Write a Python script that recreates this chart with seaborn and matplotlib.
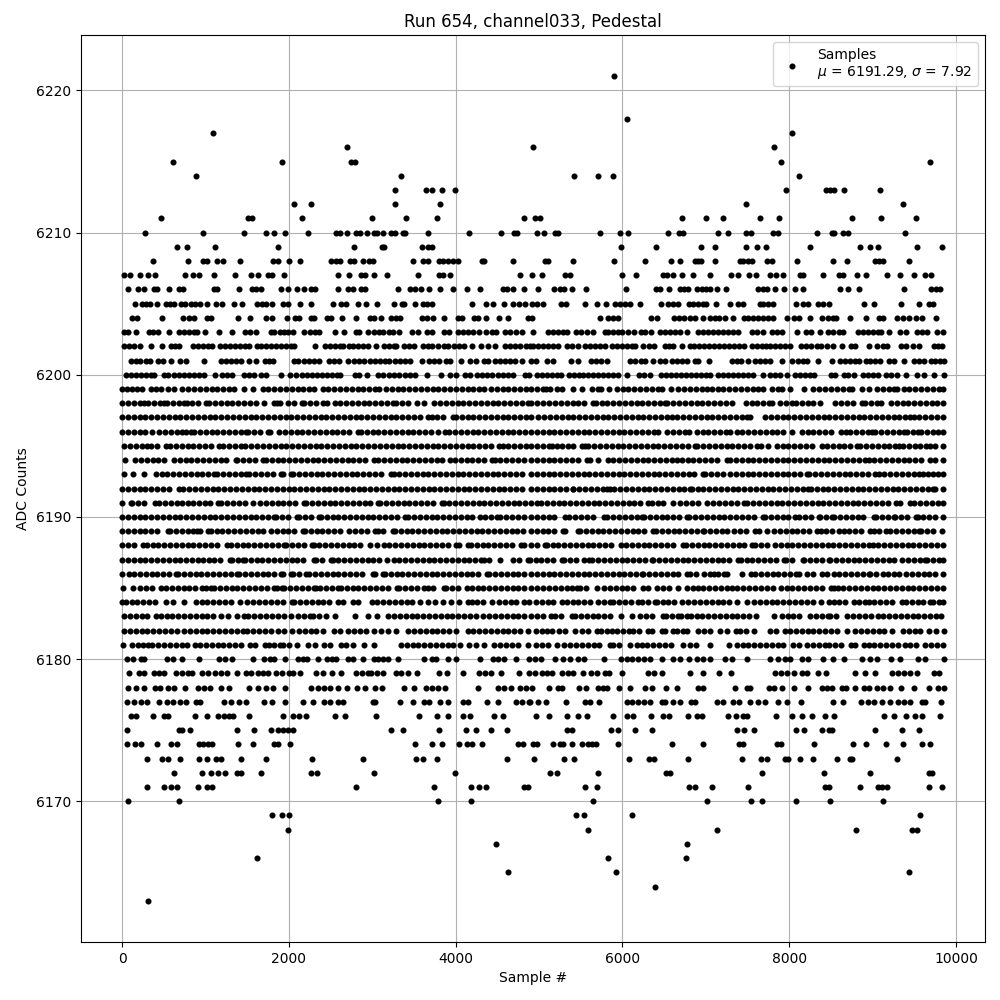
import pandas as pd
import matplotlib
matplotlib.use('Agg')
import matplotlib.pyplot as plt
import seaborn as sns

# ── Values: sample numbers at each ADC level ──────────────────────────
adc_6221 = [5904]
adc_6218 = [6060]
adc_6217 = [1092, 8040]
adc_6216 = [2700, 4932, 7824]
adc_6215 = [612, 1920, 2748, 2796, 7908, 9684]
adc_6214 = [888, 3348, 5424, 5712, 5892, 8124]
adc_6213 = [3276, 3648, 3720, 3840, 3996, 7968, 8444, 8492, 8540, 8652, 9084]
adc_6212 = [2064, 2268, 3276, 3816, 7488, 9360]
adc_6211 = [468, 1512, 1560, 2160, 3000, 3408, 3780, 4824, 4956, 5016, 6720, 7008, 7212, 7656, 7884, 8748, 9096, 9516]
adc_6210 = [276, 972, 1464, 1728, 1824, 1956, 2224, 2560, 2608, 2700, 2804, 2856, 2940, 3024, 3060, 3124, 3228, 3268,
            3364, 3392, 3672, 4164, 4548, 4704, 4736, 4980, 5064, 5196, 5228, 5736, 5976, 6072, 6552, 6684, 6732, 7152,
            7272, 7488, 7548, 7812, 7872, 8328, 8512, 8540, 8640, 8700, 9384]
adc_6209 = [660, 780, 1116, 1872, 2784, 3112, 3144, 3600, 3672, 3712, 5988, 6408, 6948, 7116, 7488, 7620, 7728, 8256,
            8844, 8964, 9060, 9528, 9828]
adc_6208 = [372, 792, 972, 1024, 1140, 1216, 1416, 1812, 1872, 1996, 2136, 2508, 2568, 2616, 2736, 2784, 2892, 2964,
            3012, 3492, 3612, 3672, 3804, 3844, 3912, 3972, 4024, 4312, 4344, 4692, 5076, 5112, 5412, 5904, 6276, 6588,
            6696, 6876, 6912, 6948, 7116, 7416, 7452, 7512, 7560, 7740, 7792, 8100, 8520, 8688, 9024, 9072, 9120, 9432]
adc_6207 = [24, 96, 216, 312, 396, 756, 852, 924, 1104, 1356, 1548, 1632, 1752, 1800, 1944, 2592, 2724, 2868, 2916, 3024,
            3180, 3552, 3804, 3852, 3936, 4776, 4912, 5040, 5316, 5376, 6000, 6168, 6492, 6540, 6612, 6720, 6852, 7056,
            7308, 7392, 7524, 7608, 7776, 7848, 7932, 8136, 8172, 8400, 8592, 8640, 8808, 8916, 9168, 9324, 9492, 9624, 9696]
adc_6206 = [72, 192, 264, 384, 420, 564, 684, 732, 1104, 1144, 1404, 1560, 1608, 1668, 1908, 1992, 2100, 2184, 2264, 2316,
            2592, 2704, 2764, 2864, 2916, 3312, 3456, 3516, 3588, 3684, 3816, 3972, 4140, 4296, 4564, 4612, 4692, 4824,
            4992, 5184, 5252, 5304, 5400, 5568, 6048, 6408, 6456, 6564, 6696, 6744, 6792, 6900, 6960, 7008, 7056, 7140,
            7248, 7632, 7692, 7740, 7836, 7944, 8076, 8172, 8604, 8700, 8832, 9372, 9696, 9756, 9804]
adc_6205 = [156, 240, 288, 336, 420, 528, 576, 624, 708, 756, 828, 876, 936, 1020, 1128, 1200, 1344, 1440, 1620, 1680,
            1728, 1800, 1932, 1992, 2132, 2268, 2532, 2628, 2688, 2832, 2928, 3060, 3264, 3360, 3384, 3516, 3612, 3660,
            3712, 4200, 4368, 4452, 4584, 4692, 4764, 4836, 4920, 4980, 5052, 5268, 5328, 5556, 5700, 5808, 5916, 5976,
            6036, 6096, 6216, 6468, 6552, 6612, 6672, 6804, 6852, 6912, 6972, 7008, 7128, 7296, 7392, 7452, 7652, 7692,
            7752, 7812, 8088, 8172, 8232, 8340, 8400, 8472, 8892, 9012, 9336, 9552, 9672, 9720]
adc_6204 = [116, 184, 480, 732, 804, 864, 1024, 1064, 1392, 1536, 1728, 1800, 1980, 2076, 2124, 2268, 2304, 2456, 2504,
            2640, 2808, 2976, 3024, 3108, 3224, 3284, 3336, 3592, 3652, 3724, 3864, 4032, 4076, 4224, 4264, 4368, 4520,
            4632, 4872, 4912, 5736, 5832, 5892, 5952, 6348, 6420, 6624, 6684, 6744, 6812, 6876, 6972, 7056, 7116, 7164,
            7236, 7332, 7464, 7512, 7572, 7632, 7692, 7752, 7812, 7980, 8064, 8124, 8256, 8388, 8460, 8520, 8564, 8724,
            8916, 9072, 9120, 9288, 9360, 9432, 9516, 9588, 9756]
adc_6203 = [24, 72, 168, 324, 372, 432, 564, 684, 744, 804, 864, 904, 996, 1164, 1320, 1476, 1536, 1608, 1788, 1824, 1896,
            1944, 1984, 2052, 2184, 2256, 2316, 2364, 2556, 2664, 2808, 2844, 2952, 3024, 3084, 3124, 3204, 3244, 3324,
            3480, 3544, 3652, 3712, 3864, 3924, 4024, 4084, 4144, 4204, 4284, 4368, 4432, 4484, 4592, 4656, 4728, 4792,
            4924, 5112, 5172, 5232, 5292, 5340, 5448, 5508, 5572, 5652, 5796, 5832, 5892, 5952, 6000, 6072, 6144, 6228,
            6276, 6348, 6456, 6516, 6576, 6636, 6696, 6780, 6912, 6972, 7032, 7092, 7152, 7212, 7272, 7332, 7392, 7560,
            7620, 7692, 7800, 7860, 7920, 8100, 8208, 8268, 8364, 8460, 8520, 8592, 8640, 8820, 8880, 8940, 9000, 9060,
            9100, 9192, 9324, 9396, 9528, 9588, 9648, 9768, 9850]
adc_6202 = [24, 84, 144, 216, 348, 480, 584, 636, 684, 852, 912, 972, 1032, 1080, 1176, 1236, 1296, 1356, 1416, 1476, 1524,
            1620, 1668, 1728, 1788, 1848, 1908, 1968, 2028, 2064, 2312, 2436, 2496, 2556, 2616, 2652, 2724, 2772, 2832,
            2892, 2952, 3048, 3144, 3204, 3264, 3284, 3384, 3444, 3504, 3612, 3672, 3720, 3792, 3864, 3912, 3984, 4044,
            4104, 4200, 4300, 4384, 4476, 4596, 4656, 4716, 4776, 4848, 4896, 4932, 4992, 5052, 5112, 5172, 5232, 5340,
            5400, 5472, 5556, 5616, 5676, 5736, 5796, 5880, 5940, 6000, 6060, 6120, 6156, 6252, 6324, 6384, 6516, 6564,
            6612, 6720, 6816, 6864, 6924, 6984, 7044, 7104, 7164, 7224, 7284, 7344, 7404, 7464, 7560, 7620, 7680, 7728,
            7776, 7836, 7896, 7956, 8016, 8148, 8208, 8268, 8328, 8376, 8448, 8520, 8628, 8736, 8784, 8952, 9048, 9120,
            9168, 9336, 9396, 9480, 9552, 9732, 9780, 9828]
adc_6201 = [104, 164, 216, 288, 336, 432, 492, 592, 696, 768, 984, 1188, 1248, 1308, 1368, 1428, 1524, 1608, 1716, 1764,
            1812, 2064, 2112, 2184, 2244, 2304, 2364, 2484, 2544, 2604, 2712, 2784, 2844, 2904, 2976, 3036, 3096, 3156,
            3204, 3276, 3336, 3396, 3456, 3600, 3684, 3744, 3804, 3888, 3936, 4068, 4176, 4248, 4344, 4392, 4476, 4536,
            4596, 4656, 4716, 4800, 4904, 4964, 5100, 5172, 5388, 5472, 5628, 5688, 5748, 5820, 6096, 6156, 6228, 6276,
            6372, 6456, 6516, 6600, 6660, 6720, 6780, 6876, 6912, 7044, 7320, 7380, 7428, 7512, 7596, 7656, 7716, 7776,
            7916, 8040, 8112, 8172, 8220, 8340, 8508, 8604, 8664, 8724, 8784, 8832, 8916, 8964, 9024, 9084, 9192, 9252,
            9372, 9492, 9552, 9612, 9696, 9744, 9804, 9852]
adc_6200 = [48, 108, 168, 228, 288, 348, 384, 504, 552, 624, 684, 744, 804, 864, 924, 984, 1116, 1200, 1260, 1320, 1464,
            1524, 1584, 1668, 1728, 1908, 2016, 2088, 2160, 2220, 2280, 2340, 2400, 2460, 2520, 2580, 2616, 2796, 2844,
            2940, 3072, 3132, 3204, 3264, 3324, 3396, 3456, 3516, 3660, 3828, 3936, 4008, 4116, 4176, 4260, 4320, 4380,
            4440, 4512, 4572, 4632, 4692, 4836, 4884, 4980, 5040, 5100, 5160, 5220, 5268, 5364, 5424, 5484, 5532, 5592,
            5652, 5712, 5772, 5832, 5892, 5952, 6060, 6204, 6264, 6336, 6468, 6528, 6588, 6648, 6708, 6768, 6828, 6888,
            6948, 7008, 7056, 7152, 7212, 7272, 7332, 7392, 7452, 7512, 7572, 7692, 7776, 7836, 7896, 7972, 8076, 8136,
            8196, 8256, 8304, 8496, 8544, 8652, 8700, 8772, 8880, 8940, 9000, 9060, 9156, 9216, 9288, 9396, 9528, 9612,
            9732, 9852]
adc_6199 = [0, 60, 120, 180, 240, 344, 404, 464, 552, 624, 724, 794, 864, 934, 1004, 1074, 1144, 1214, 1284, 1344, 1464,
            1564, 1684, 1754, 1824, 1894, 1964, 2034, 2104, 2174, 2244, 2304, 2404, 2474, 2544, 2614, 2684, 2754, 2824,
            2894, 2964, 3034, 3084, 3164, 3234, 3304, 3374, 3444, 3514, 3584, 3654, 3724, 3794, 3864, 3934, 4004, 4074,
            4144, 4214, 4284, 4344, 4424, 4494, 4564, 4634, 4704, 4774, 4844, 4904, 4974, 5044, 5080, 5132, 5212, 5272,
            5412, 5520, 5632, 5702, 5740, 5840, 5932, 6002, 6072, 6142, 6212, 6282, 6352, 6422, 6472, 6584, 6672, 6742,
            6812, 6882, 6952, 7012, 7072, 7142, 7212, 7282, 7352, 7422, 7492, 7562, 7632, 7692, 7792, 7862, 7912, 8012,
            8180, 8292, 8362, 8432, 8502, 8572, 8642, 8712, 8752, 8872, 8952, 9052, 9122, 9192, 9262, 9292, 9372, 9442,
            9512, 9582, 9652, 9722, 9792, 9850]
adc_6198 = [0, 70, 140, 210, 264, 316, 384, 450, 504, 544, 614, 684, 740, 784, 844, 914, 1004, 1044, 1114, 1184, 1254,
            1324, 1394, 1464, 1534, 1604, 1696, 1816, 1852, 1888, 1992, 2062, 2152, 2184, 2254, 2324, 2404, 2456, 2556,
            2616, 2686, 2756, 2826, 2896, 2966, 3036, 3106, 3176, 3244, 3284, 3354, 3424, 3536, 3624, 3744, 3814, 3884,
            3954, 4024, 4094, 4164, 4234, 4304, 4374, 4444, 4514, 4584, 4654, 4724, 4794, 4864, 4904, 4972, 5052, 5122,
            5192, 5262, 5332, 5402, 5472, 5542, 5644, 5680, 5750, 5820, 5890, 5960, 6030, 6100, 6170, 6240, 6310, 6380,
            6450, 6512, 6540, 6610, 6680, 6750, 6820, 6890, 6960, 7030, 7100, 7170, 7240, 7312, 7480, 7550, 7620, 7690,
            7760, 7800, 7892, 7962, 8032, 8084, 8152, 8222, 8292, 8372, 8552, 8622, 8692, 8762, 8872, 8912, 8982, 9052,
            9100, 9220, 9290, 9360, 9430, 9500, 9570, 9640, 9712, 9772, 9850]
adc_6197 = [0, 70, 140, 210, 280, 350, 420, 490, 560, 630, 700, 770, 840, 910, 980, 1050, 1120, 1190, 1260, 1330, 1400,
            1470, 1540, 1610, 1680, 1750, 1820, 1890, 1960, 2030, 2100, 2170, 2240, 2310, 2380, 2450, 2520, 2590, 2660,
            2730, 2800, 2870, 2940, 3010, 3080, 3150, 3220, 3290, 3360, 3430, 3500, 3570, 3664, 3712, 3782, 3852, 3964,
            4004, 4074, 4144, 4214, 4284, 4354, 4424, 4494, 4564, 4634, 4704, 4774, 4844, 4904, 4992, 5062, 5132, 5202,
            5272, 5342, 5412, 5482, 5552, 5622, 5692, 5762, 5832, 5902, 5972, 6042, 6112, 6182, 6252, 6322, 6392, 6462,
            6532, 6592, 6660, 6730, 6800, 6870, 6940, 7010, 7080, 7150, 7220, 7290, 7360, 7430, 7492, 7532, 7712, 7782,
            7852, 7922, 7992, 8062, 8132, 8202, 8272, 8342, 8412, 8482, 8552, 8622, 8692, 8762, 8832, 8902, 8972, 9042,
            9112, 9182, 9252, 9322, 9392, 9452, 9492, 9562, 9632, 9702, 9772, 9850]
adc_6196 = [0, 70, 140, 210, 280, 364, 444, 514, 584, 654, 724, 764, 824, 864, 934, 1004, 1074, 1144, 1214, 1284, 1354,
            1424, 1484, 1516, 1586, 1656, 1744, 1776, 1884, 1952, 2022, 2092, 2162, 2232, 2302, 2372, 2442, 2512, 2582,
            2652, 2722, 2824, 2864, 2934, 3004, 3074, 3144, 3214, 3284, 3354, 3424, 3494, 3564, 3634, 3704, 3784, 3872,
            3924, 3994, 4064, 4134, 4204, 4274, 4344, 4414, 4484, 4554, 4624, 4694, 4764, 4834, 4904, 4974, 5044, 5114,
            5184, 5254, 5324, 5394, 5464, 5534, 5604, 5674, 5744, 5814, 5884, 5954, 6024, 6094, 6164, 6234, 6304, 6374,
            6432, 6540, 6610, 6680, 6750, 6804, 6892, 6962, 7032, 7102, 7172, 7242, 7292, 7380, 7440, 7510, 7580, 7650,
            7720, 7790, 7860, 7930, 8040, 8152, 8222, 8292, 8362, 8432, 8502, 8620, 8680, 8732, 8802, 8872, 8942, 8992,
            9032, 9102, 9172, 9242, 9312, 9372, 9412, 9482, 9540, 9580, 9650, 9720, 9790, 9850]
adc_6195 = [24, 94, 164, 234, 304, 352, 424, 524, 576, 646, 716, 786, 856, 926, 996, 1072, 1164, 1216, 1286, 1356, 1424,
            1480, 1550, 1620, 1690, 1760, 1830, 1900, 1970, 2040, 2110, 2180, 2250, 2320, 2390, 2460, 2530, 2600, 2670,
            2740, 2810, 2880, 2950, 3020, 3090, 3160, 3232, 3304, 3374, 3444, 3514, 3584, 3654, 3724, 3794, 3864, 3934,
            4004, 4074, 4144, 4214, 4284, 4354, 4424, 4524, 4564, 4634, 4704, 4774, 4844, 4904, 4974, 5044, 5114, 5152,
            5212, 5272, 5342, 5412, 5512, 5552, 5592, 5662, 5732, 5802, 5872, 5942, 6012, 6082, 6152, 6222, 6292, 6362,
            6432, 6502, 6572, 6642, 6712, 6782, 6872, 6900, 6970, 7040, 7110, 7180, 7250, 7320, 7390, 7460, 7530, 7612,
            7664, 7744, 7852, 7922, 7992, 8062, 8132, 8202, 8272, 8392, 8452, 8522, 8592, 8662, 8732, 8812, 8852, 8922,
            8992, 9062, 9132, 9202, 9272, 9312, 9364, 9434, 9504, 9572, 9640, 9684, 9754, 9850]
adc_6194 = [40, 156, 226, 296, 366, 436, 506, 624, 692, 762, 832, 902, 972, 1042, 1112, 1182, 1252, 1364, 1384, 1454,
            1524, 1594, 1684, 1724, 1794, 1864, 1934, 2004, 2074, 2144, 2214, 2284, 2354, 2424, 2494, 2564, 2634, 2704,
            2774, 2844, 2914, 3016, 3072, 3142, 3212, 3282, 3352, 3422, 3492, 3562, 3632, 3702, 3772, 3842, 3936, 3992,
            4062, 4132, 4202, 4272, 4342, 4432, 4476, 4536, 4606, 4676, 4746, 4816, 4904, 4974, 5044, 5114, 5184, 5254,
            5324, 5394, 5464, 5572, 5616, 5704, 5824, 5892, 5962, 6032, 6102, 6172, 6242, 6312, 6382, 6452, 6522, 6592,
            6652, 6712, 6782, 6852, 6922, 6992, 7062, 7132, 7252, 7292, 7362, 7432, 7502, 7572, 7642, 7712, 7782, 7852,
            7922, 7992, 8062, 8132, 8202, 8272, 8342, 8412, 8482, 8552, 8622, 8692, 8762, 8832, 8912, 8952, 9022, 9092,
            9162, 9232, 9302, 9372, 9442, 9512, 9582, 9684, 9744, 9850]
adc_6193 = [24, 136, 264, 404, 474, 544, 614, 684, 754, 824, 894, 964, 1034, 1104, 1144, 1214, 1284, 1354, 1424, 1492,
            1524, 1594, 1664, 1734, 1804, 1904, 1924, 2024, 2052, 2122, 2192, 2262, 2332, 2402, 2472, 2542, 2612, 2682,
            2752, 2822, 2892, 2962, 3032, 3102, 3224, 3264, 3324, 3394, 3464, 3534, 3604, 3674, 3744, 3814, 3884, 3954,
            4024, 4094, 4164, 4234, 4304, 4374, 4444, 4514, 4584, 4654, 4724, 4794, 4904, 4974, 5044, 5114, 5184, 5254,
            5324, 5394, 5464, 5534, 5604, 5674, 5744, 5814, 5884, 5954, 6024, 6094, 6164, 6234, 6304, 6374, 6444, 6514,
            6584, 6654, 6724, 6794, 6864, 6964, 6992, 7062, 7132, 7212, 7292, 7362, 7432, 7502, 7572, 7642, 7712, 7782,
            7852, 7922, 7992, 8062, 8132, 8212, 8244, 8314, 8384, 8454, 8524, 8594, 8664, 8734, 8804, 8874, 8944, 9032,
            9072, 9142, 9212, 9282, 9352, 9422, 9492, 9552, 9600, 9670, 9724, 9780, 9850]
adc_6192 = [0, 70, 140, 210, 280, 350, 420, 490, 560, 688, 736, 806, 876, 946, 1016, 1086, 1156, 1226, 1296, 1366, 1436,
            1506, 1576, 1646, 1716, 1786, 1856, 1926, 1996, 2066, 2136, 2206, 2276, 2346, 2416, 2486, 2556, 2626, 2696,
            2766, 2836, 2906, 2976, 3046, 3116, 3186, 3256, 3326, 3396, 3466, 3536, 3606, 3676, 3746, 3816, 3886, 3956,
            4026, 4096, 4166, 4236, 4306, 4376, 4446, 4516, 4586, 4656, 4726, 4796, 4904, 4974, 5044, 5114, 5184, 5254,
            5324, 5404, 5412, 5482, 5552, 5622, 5692, 5762, 5820, 5856, 5904, 5974, 6044, 6114, 6184, 6254, 6324, 6394,
            6464, 6534, 6604, 6674, 6744, 6812, 6832, 6902, 6972, 7042, 7112, 7182, 7252, 7322, 7392, 7462, 7532, 7602,
            7672, 7742, 7812, 7882, 7952, 8022, 8092, 8162, 8232, 8260, 8330, 8400, 8470, 8540, 8610, 8680, 8750, 8820,
            8890, 8960, 9030, 9100, 9170, 9240, 9310, 9380, 9450, 9520, 9590, 9660, 9724, 9752, 9850]
adc_6191 = [0, 104, 124, 194, 264, 392, 444, 514, 584, 654, 724, 794, 856, 920, 990, 1060, 1152, 1192, 1262, 1332, 1402,
            1472, 1572, 1656, 1724, 1794, 1864, 1934, 2004, 2074, 2176, 2208, 2278, 2348, 2418, 2488, 2558, 2628, 2698,
            2768, 2838, 2908, 2978, 3064, 3096, 3166, 3236, 3306, 3376, 3446, 3516, 3586, 3656, 3726, 3832, 3856, 3926,
            3996, 4066, 4136, 4206, 4276, 4346, 4416, 4486, 4556, 4626, 4696, 4766, 4836, 4904, 4980, 5024, 5094, 5164,
            5234, 5304, 5374, 5444, 5514, 5584, 5654, 5724, 5794, 5864, 5934, 6004, 6074, 6144, 6214, 6312, 6352, 6422,
            6492, 6604, 6692, 6762, 6832, 6902, 7012, 7092, 7162, 7232, 7302, 7372, 7460, 7500, 7570, 7640, 7710, 7780,
            7850, 7920, 7990, 8060, 8130, 8200, 8270, 8340, 8410, 8480, 8550, 8620, 8690, 8760, 8830, 8900, 8970, 9040,
            9110, 9180, 9284, 9324, 9444, 9500, 9570, 9640, 9710, 9780, 9850]
adc_6190 = [0, 70, 140, 210, 280, 350, 420, 490, 560, 630, 700, 770, 840, 910, 980, 1050, 1120, 1190, 1260, 1330, 1400,
            1470, 1540, 1610, 1680, 1750, 1824, 1848, 1918, 1988, 2096, 2124, 2194, 2264, 2364, 2384, 2454, 2524, 2594,
            2664, 2734, 2804, 2874, 2944, 3014, 3084, 3154, 3224, 3294, 3392, 3432, 3502, 3572, 3642, 3712, 3782, 3852,
            3922, 3992, 4062, 4132, 4202, 4296, 4352, 4422, 4496, 4536, 4606, 4676, 4746, 4816, 4904, 4974, 5044, 5114,
            5184, 5312, 5364, 5434, 5504, 5574, 5644, 5780, 5820, 5890, 5960, 6030, 6100, 6170, 6232, 6260, 6330, 6400,
            6470, 6540, 6610, 6680, 6780, 6804, 6874, 6944, 7014, 7084, 7154, 7224, 7294, 7364, 7434, 7504, 7574, 7684,
            7712, 7782, 7852, 7922, 7992, 8072, 8124, 8194, 8264, 8352, 8372, 8442, 8512, 8540, 8610, 8680, 8750, 8820,
            8890, 9012, 9044, 9114, 9184, 9252, 9272, 9342, 9412, 9524, 9540, 9610, 9680, 9750, 9850]
adc_6189 = [0, 70, 140, 210, 280, 350, 420, 552, 576, 646, 716, 786, 856, 904, 936, 1032, 1064, 1134, 1204, 1274, 1344,
            1414, 1484, 1554, 1624, 1692, 1784, 1854, 1924, 1994, 2064, 2168, 2192, 2262, 2332, 2402, 2472, 2542, 2616,
            2724, 2794, 2864, 2934, 3032, 3064, 3134, 3244, 3272, 3342, 3412, 3482, 3552, 3622, 3692, 3762, 3832, 3902,
            3972, 4042, 4112, 4182, 4252, 4322, 4392, 4462, 4532, 4602, 4672, 4742, 4812, 4904, 4972, 5042, 5112, 5182,
            5292, 5312, 5472, 5492, 5562, 5632, 5702, 5772, 5842, 5912, 5982, 6052, 6122, 6192, 6262, 6364, 6404, 6474,
            6544, 6614, 6684, 6754, 6824, 6894, 6972, 6980, 7050, 7120, 7190, 7260, 7340, 7410, 7480, 7592, 7644, 7740,
            7820, 7890, 7960, 8030, 8100, 8170, 8240, 8328, 8376, 8446, 8516, 8592, 8652, 8722, 8792, 8862, 8964, 9012,
            9082, 9164, 9212, 9282, 9352, 9422, 9492, 9552, 9580, 9650, 9720, 9832]
adc_6188 = [0, 70, 140, 256, 296, 366, 436, 506, 576, 646, 716, 786, 856, 926, 996, 1066, 1136, 1264, 1304, 1376, 1446,
            1516, 1586, 1656, 1726, 1796, 1866, 1944, 1968, 2038, 2108, 2178, 2272, 2296, 2366, 2436, 2506, 2576, 2646,
            2716, 2786, 2856, 2976, 3056, 3136, 3206, 3276, 3346, 3416, 3486, 3556, 3626, 3696, 3766, 3836, 3906, 4004,
            4044, 4144, 4184, 4254, 4324, 4394, 4464, 4534, 4604, 4674, 4784, 4824, 4904, 4974, 5076, 5092, 5162, 5232,
            5302, 5372, 5442, 5512, 5582, 5652, 5722, 5792, 5862, 5980, 6044, 6114, 6184, 6254, 6324, 6394, 6464, 6534,
            6604, 6732, 6764, 6834, 6904, 6974, 7044, 7114, 7184, 7254, 7324, 7394, 7464, 7552, 7596, 7666, 7736, 7832,
            7900, 7970, 8040, 8110, 8180, 8250, 8320, 8390, 8460, 8530, 8600, 8670, 8740, 8810, 8880, 8952, 9000, 9070,
            9140, 9210, 9280, 9350, 9420, 9490, 9560, 9630, 9700, 9770, 9850]
adc_6187 = [0, 70, 140, 210, 280, 350, 420, 490, 560, 630, 700, 770, 840, 916, 968, 1038, 1108, 1178, 1296, 1316, 1386,
            1452, 1472, 1542, 1612, 1682, 1752, 1822, 1892, 1962, 2032, 2102, 2172, 2296, 2324, 2394, 2504, 2524, 2594,
            2664, 2734, 2804, 2874, 2944, 3014, 3084, 3176, 3256, 3326, 3396, 3466, 3536, 3606, 3676, 3746, 3816, 3886,
            3956, 4026, 4096, 4166, 4236, 4304, 4336, 4406, 4536, 4692, 4762, 4872, 4892, 4964, 5024, 5094, 5164, 5280,
            5300, 5370, 5440, 5540, 5596, 5640, 5710, 5780, 5850, 5920, 5990, 6060, 6130, 6200, 6270, 6352, 6372, 6442,
            6512, 6582, 6652, 6722, 6792, 6862, 6932, 7002, 7072, 7142, 7212, 7282, 7392, 7420, 7490, 7560, 7630, 7700,
            7770, 7840, 7940, 7964, 8034, 8164, 8180, 8250, 8320, 8390, 8480, 8492, 8562, 8632, 8702, 8772, 8842, 8912,
            8982, 9052, 9122, 9192, 9262, 9352, 9420, 9500, 9570, 9632, 9652, 9722, 9792, 9850]
adc_6186 = [0, 84, 144, 214, 284, 354, 424, 494, 564, 644, 672, 742, 812, 882, 952, 1022, 1092, 1162, 1232, 1302, 1384,
            1404, 1474, 1544, 1614, 1684, 1754, 1824, 1904, 1924, 2024, 2052, 2122, 2204, 2244, 2314, 2384, 2454, 2524,
            2594, 2664, 2734, 2804, 2874, 3004, 3032, 3124, 3152, 3222, 3292, 3362, 3432, 3502, 3572, 3642, 3712, 3782,
            3852, 3922, 3992, 4062, 4132, 4202, 4272, 4376, 4404, 4474, 4544, 4614, 4684, 4754, 4824, 4904, 4974, 5044,
            5114, 5184, 5254, 5324, 5394, 5464, 5534, 5604, 5674, 5744, 5814, 5884, 5954, 6024, 6094, 6164, 6232, 6252,
            6322, 6392, 6462, 6532, 6602, 6672, 6772, 6812, 6884, 6980, 7050, 7100, 7152, 7222, 7260, 7440, 7540, 7592,
            7662, 7732, 7802, 7872, 7942, 8012, 8084, 8124, 8220, 8290, 8392, 8452, 8532, 8602, 8672, 8742, 8812, 8882,
            8952, 8972, 9042, 9124, 9180, 9252, 9322, 9404, 9472, 9542, 9612, 9682, 9752, 9850]
adc_6185 = [12, 136, 216, 286, 356, 472, 528, 598, 668, 738, 808, 878, 964, 1004, 1072, 1104, 1174, 1244, 1314, 1384,
            1454, 1524, 1594, 1664, 1734, 1816, 1856, 1916, 1944, 2014, 2084, 2154, 2224, 2304, 2328, 2376, 2446, 2516,
            2592, 2624, 2694, 2764, 2834, 2904, 2974, 3044, 3114, 3184, 3292, 3324, 3394, 3464, 3534, 3624, 3664, 3734,
            3856, 3884, 3954, 4024, 4136, 4192, 4264, 4334, 4404, 4474, 4544, 4614, 4684, 4754, 4824, 4904, 4980, 5050,
            5120, 5190, 5260, 5330, 5400, 5452, 5492, 5562, 5692, 5780, 5850, 5920, 5990, 6060, 6130, 6244, 6312, 6420,
            6490, 6560, 6672, 6772, 6842, 6912, 6972, 7042, 7112, 7182, 7252, 7312, 7380, 7450, 7520, 7590, 7660, 7730,
            7812, 7900, 7970, 8040, 8110, 8180, 8250, 8320, 8390, 8504, 8532, 8580, 8650, 8720, 8790, 8860, 8930, 9000,
            9070, 9140, 9210, 9280, 9350, 9420, 9490, 9560, 9630, 9700, 9770, 9850]
adc_6184 = [0, 44, 114, 184, 254, 324, 394, 524, 612, 744, 884, 954, 1024, 1094, 1164, 1234, 1304, 1416, 1504, 1574, 1644,
            1714, 1784, 1854, 1924, 2032, 2064, 2134, 2204, 2274, 2344, 2414, 2484, 2584, 2644, 2764, 2832, 2992, 3062,
            3132, 3202, 3272, 3342, 3412, 3482, 3576, 3664, 3752, 3844, 3944, 4044, 4144, 4192, 4262, 4332, 4432, 4524,
            4594, 4664, 4724, 4824, 4884, 4962, 5032, 5112, 5172, 5272, 5332, 5402, 5472, 5542, 5612, 5712, 5780, 5852,
            5892, 5962, 6032, 6102, 6192, 6232, 6302, 6392, 6412, 6482, 6552, 6622, 6712, 6792, 6862, 6932, 7002, 7072,
            7142, 7204, 7284, 7372, 7492, 7580, 7650, 7720, 7790, 7860, 7930, 8000, 8070, 8140, 8210, 8292, 8380, 8472,
            8532, 8592, 8672, 8772, 8842, 8912, 8952, 9022, 9092, 9162, 9232, 9352, 9400, 9470, 9540, 9610, 9684, 9724,
            9794, 9850]
adc_6183 = [24, 94, 164, 234, 304, 404, 464, 534, 604, 674, 744, 814, 884, 954, 1024, 1094, 1184, 1276, 1384, 1464, 1516,
            1586, 1656, 1726, 1796, 1866, 1936, 2024, 2112, 2182, 2256, 2292, 2364, 2444, 2552, 2796, 2944, 3056, 3192,
            3262, 3332, 3402, 3472, 3542, 3612, 3682, 3752, 3822, 3892, 3962, 4032, 4102, 4172, 4242, 4324, 4404, 4474,
            4544, 4614, 4684, 4754, 4824, 4904, 4974, 5044, 5140, 5192, 5262, 5392, 5432, 5502, 5572, 5642, 5712, 5782,
            5852, 5980, 6112, 6212, 6282, 6352, 6492, 6524, 6594, 6672, 6700, 6780, 6820, 6890, 6960, 7030, 7100, 7170,
            7240, 7310, 7380, 7450, 7520, 7604, 7824, 7912, 7982, 8052, 8124, 8252, 8322, 8392, 8464, 8492, 8562, 8692,
            8764, 8834, 8904, 8980, 9060, 9130, 9200, 9270, 9340, 9410, 9480, 9550, 9620, 9690, 9760, 9820]
adc_6182 = [24, 94, 164, 234, 304, 374, 444, 514, 584, 656, 744, 814, 884, 954, 1024, 1094, 1164, 1234, 1304, 1374, 1456,
            1504, 1574, 1644, 1714, 1784, 1864, 1936, 2032, 2124, 2194, 2264, 2328, 2412, 2544, 2616, 2712, 2782, 2852,
            2922, 3024, 3104, 3192, 3288, 3432, 3502, 3572, 3642, 3712, 3782, 3852, 3924, 4004, 4144, 4214, 4284, 4354,
            4424, 4494, 4564, 4634, 4704, 4774, 4864, 4962, 5032, 5092, 5152, 5244, 5314, 5432, 5512, 5582, 5692, 5740,
            5810, 5880, 5940, 6004, 6084, 6124, 6194, 6312, 6352, 6472, 6512, 6604, 6652, 6722, 6780, 6912, 6982, 7052,
            7172, 7252, 7364, 7412, 7482, 7580, 7772, 7842, 7952, 8012, 8082, 8152, 8222, 8292, 8362, 8432, 8502, 8572,
            8692, 8792, 8862, 8932, 9002, 9072, 9142, 9232, 9364, 9434, 9504, 9574, 9672, 9764, 9852]
adc_6181 = [12, 124, 194, 256, 316, 364, 434, 504, 574, 644, 714, 784, 872, 936, 1006, 1076, 1146, 1216, 1286, 1356, 1426,
            1532, 1592, 1716, 1764, 1824, 1896, 1932, 2002, 2096, 2224, 2316, 2424, 2494, 2624, 2688, 2764, 2904, 3016,
            3344, 3414, 3484, 3554, 3624, 3694, 3764, 3834, 3904, 3974, 4056, 4164, 4248, 4344, 4464, 4534, 4604, 4674,
            4744, 4864, 4962, 5032, 5112, 5212, 5304, 5374, 5444, 5514, 5584, 5654, 5724, 5852, 5892, 5962, 6092, 6172,
            6232, 6300, 6370, 6440, 6510, 6580, 6732, 6812, 6882, 7052, 7276, 7372, 7442, 7512, 7582, 7652, 7722, 7792,
            7862, 7932, 8052, 8124, 8220, 8284, 8354, 8432, 8480, 8550, 8620, 8740, 8792, 8892, 8952, 9022, 9092, 9162,
            9232, 9302, 9392, 9452, 9522, 9632, 9700, 9770, 9850]
adc_6180 = [64, 134, 224, 264, 536, 606, 724, 924, 1164, 1232, 1324, 1572, 1704, 1776, 1824, 1956, 2104, 2164, 2216, 2344,
            2452, 2512, 2568, 2704, 2774, 2884, 3016, 3064, 3124, 3192, 3304, 3624, 3712, 3768, 3904, 4000, 4296, 4448,
            4504, 4584, 4728, 4884, 4954, 5024, 5188, 5292, 5372, 5472, 5544, 5784, 5980, 6050, 6120, 6190, 6260, 6330,
            6472, 6612, 6692, 6804, 6892, 6972, 7056, 7232, 7312, 7496, 7772, 7872, 7952, 8016, 8152, 8232, 8400, 8520,
            8652, 8872, 8972, 9052, 9216, 9324, 9540, 9624, 9852]
adc_6179 = [84, 204, 264, 384, 444, 504, 652, 722, 792, 844, 964, 1032, 1116, 1186, 1264, 1384, 1484, 1544, 1624, 1684,
            1744, 1844, 1914, 2004, 2052, 2136, 2328, 2408, 2512, 2620, 2804, 2872, 2944, 2984, 3052, 3124, 3284, 3344,
            3424, 3536, 3804, 3896, 4084, 4284, 4354, 4424, 4544, 4764, 4884, 4952, 5032, 5092, 5160, 5272, 5342, 5412,
            5532, 5624, 5694, 5792, 5844, 5992, 6312, 6384, 6472, 6812, 6972, 7164, 7300, 7832, 7902, 7972, 8064, 8152,
            8220, 8340, 8444, 8784, 8904, 9032, 9232, 9300, 9372, 9444, 9528, 9732, 9792]
adc_6178 = [72, 164, 264, 400, 456, 552, 622, 752, 912, 982, 1056, 1184, 1288, 1524, 1624, 1728, 1812, 1956, 2268, 2352,
            2422, 2492, 2584, 2700, 2820, 2908, 3036, 3112, 3384, 3496, 3648, 3720, 3792, 3876, 4272, 4512, 4582, 4664,
            4768, 4848, 4912, 5120, 5232, 5280, 5484, 5564, 5704, 5772, 5820, 5964, 6092, 6276, 6360, 6528, 6660, 6912,
            6972, 7348, 7492, 7532, 7764, 7824, 7920, 8064, 8232, 8392, 8452, 8512, 8636, 8684, 8784, 8892, 8952, 9052,
            9122, 9204, 9336, 9492, 9680, 9780, 9856]
adc_6177 = [60, 144, 224, 300, 444, 540, 612, 696, 768, 884, 936, 1224, 1304, 1404, 1488, 1704, 1800, 1956, 2164, 2284,
            2424, 2496, 2592, 2644, 3004, 3032, 3336, 3484, 3616, 3676, 3816, 3912, 4084, 4144, 4376, 4504, 4728, 4800,
            4884, 4892, 4992, 5084, 5324, 5556, 5616, 5724, 6056, 6112, 6192, 6262, 6332, 6472, 6516, 6612, 6692, 6828,
            6872, 7132, 7212, 7332, 7402, 7532, 7632, 7712, 7872, 7980, 8148, 8520, 8640, 8856, 8944, 9012, 9112, 9204,
            9304, 9372, 9444, 9592, 9632, 9824]
adc_6176 = [104, 164, 372, 504, 552, 876, 1020, 1152, 1224, 1284, 1332, 1520, 1932, 2044, 2124, 2204, 2556, 2676, 3048,
            3564, 3780, 3912, 4092, 4176, 4464, 4564, 4964, 5124, 5340, 5472, 5580, 5892, 6052, 6132, 6348, 6492, 6564,
            6792, 6892, 6960, 7272, 7364, 7452, 7500, 7844, 8036, 8152, 8280, 8432, 8540, 9140, 9252, 9400, 9512, 9592, 9812]
adc_6175 = [60, 684, 724, 816, 1384, 1584, 1784, 1864, 1924, 1984, 2044, 3228, 3372, 3804, 4124, 4240, 4428, 4620, 5332,
            5392, 5868, 5948, 6152, 6360, 7380, 7464, 7580, 8088, 8184, 8388, 8472, 8512, 9024, 9348, 9552]
adc_6174 = [60, 156, 224, 420, 588, 660, 924, 972, 1032, 1084, 1392, 1572, 1824, 1872, 2016, 3516, 3712, 3840, 4044, 4140,
            4192, 4312, 4752, 4804, 4932, 4972, 5172, 5252, 5292, 5400, 5512, 5592, 5632, 5688, 5952, 6600, 6972, 7404,
            7452, 7860, 7900, 8304, 8760, 8916, 9156, 9360, 9588, 9692]
adc_6173 = [300, 480, 552, 696, 924, 1016, 1128, 1184, 1428, 1728, 2280, 2892, 3528, 3608, 3780, 4620, 4944, 5304, 5424,
            6084, 6324, 6380, 6792, 7440, 7668, 7740, 7952, 7992, 8136, 8292, 8568, 8724, 8752, 9288]
adc_6172 = [624, 960, 1068, 1152, 1236, 1384, 1424, 1668, 2268, 2340, 3024, 3996, 5136, 5220, 5712, 6528, 6576, 7680,
            8412, 8964, 9672, 9708]
adc_6171 = [300, 504, 588, 660, 912, 1020, 1080, 2808, 3744, 4188, 4284, 4368, 4824, 4872, 5556, 5700, 6804, 6876, 7080,
            7512, 8432, 8472, 8844, 9060, 9112, 9168, 9672, 9828]
adc_6170 = [72, 684, 3792, 4188, 5652, 7012, 7548, 7680, 8088, 8484, 9120]
adc_6169 = [1800, 1920, 2004, 5448, 5544, 6120, 9564]
adc_6168 = [1992, 5592, 7140, 8796, 9468, 9528]
adc_6167 = [4488, 6780]
adc_6166 = [1620, 5832, 6768]
adc_6165 = [4632, 5928, 9432]
adc_6164 = [6396]
adc_6163 = [312]

# ── Build long table from the adc_* lists ─────────────────────────────
levels = [int(k[4:]) for k in list(globals()) if k.startswith('adc_')]
rows = []
for lev in levels:
    for s in globals()[f'adc_{lev}']:
        rows.append((s, lev))
df = pd.DataFrame(rows, columns=['sample', 'adc'])

fig, ax = plt.subplots(figsize=(10, 10))
sns.scatterplot(data=df, x='sample', y='adc', ax=ax, marker='.', s=36,
                color='black', edgecolor='black', linewidth=1.35, zorder=2,
                label='Samples\n$\\mu$ = 6191.29, $\\sigma$ = 7.92')
ax.set_xlabel('Sample #')
ax.set_ylabel('ADC Counts')
ax.set_title('Run 654, channel033, Pedestal')
ax.grid(True)
ax.legend(loc='upper right')
fig.subplots_adjust(left=0.081, right=0.985, top=0.965, bottom=0.058)
plt.savefig('out.png', dpi=100)
